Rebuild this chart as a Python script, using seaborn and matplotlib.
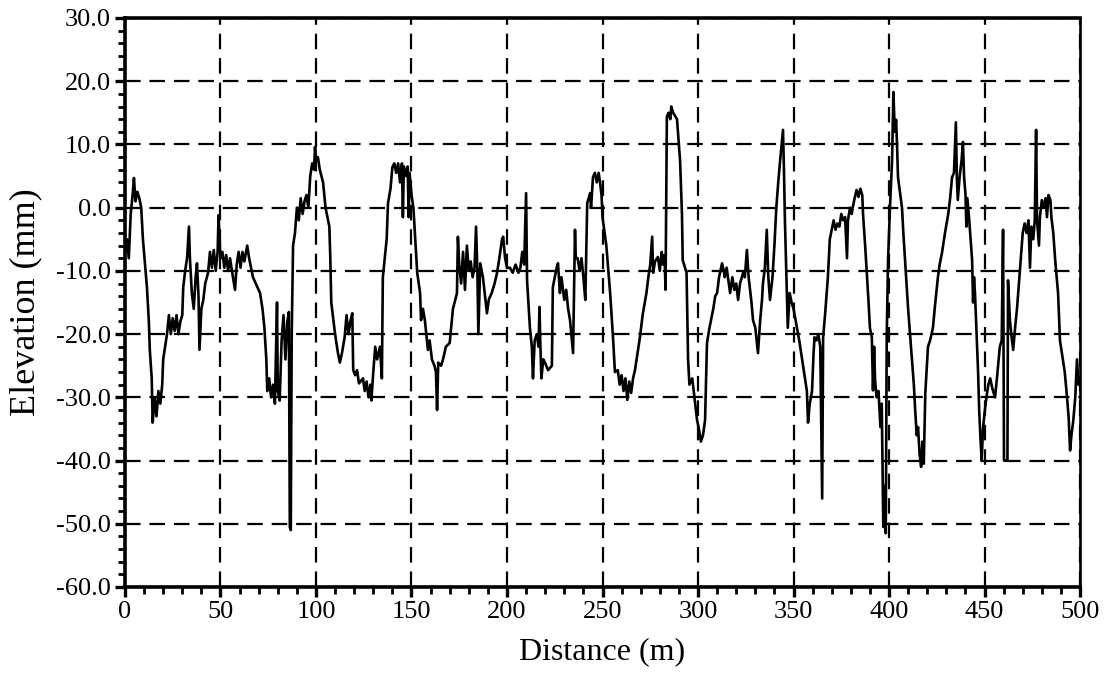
import numpy as np
import pandas as pd
import matplotlib
matplotlib.use("Agg")
import matplotlib.pyplot as plt
import seaborn as sns
from matplotlib.ticker import MultipleLocator, FuncFormatter

distance = [
    0, 1, 2, 3, 4, 4.7, 5.5, 6.5, 7.5, 8.5, 9.4, 10.5, 11.5, 12.5, 13, 14, 14.5, 15.5, 16.5, 17.5,
    18.5, 19.5, 20, 21, 22, 23, 24, 25, 26, 27, 28, 29, 30, 30.5, 31.5, 32.5, 33.5, 34, 35, 36,
    37, 37.7, 38.5, 39, 40, 41, 42, 43.5, 44.5, 45.5, 46.5, 47.5, 48.5, 49, 50, 51, 52, 53, 54, 55,
    56, 57.6, 58.5, 59.5, 60.5, 61.5, 62.5, 64, 65, 66, 67, 68.5, 70.7, 72, 73, 74, 74.5, 75.5, 76.5, 77.5,
    78.5, 79.6, 80, 81, 82, 83, 84, 85, 85.8, 86.3, 86.8, 87.3, 88, 89, 90, 91, 92, 93, 94, 95,
    96, 97, 98, 99, 99.5, 100, 101, 102, 103.7, 105, 107, 107.5, 108, 110, 111.5, 112.5, 113.6, 115, 116, 117,
    118, 119, 119.5, 120.5, 121.5, 122.5, 124.6, 125.5, 126.5, 127.5, 128.5, 129, 130, 131, 132, 133.5, 134.5, 135, 136, 137,
    137.7, 139, 140, 141, 142, 143, 144, 145, 145.5, 146, 147, 148, 148.5, 149, 150, 151, 153, 154.5, 155, 156,
    157, 158.6, 159.5, 160.7, 162, 162.8, 163.4, 164, 165.5, 166.5, 168, 170, 171.7, 173, 173.8, 174.3, 175, 176, 177, 178,
    179, 180, 181, 182, 183, 183.8, 184.5, 185, 186, 187.4, 188.5, 189.5, 190.5, 192, 193.5, 194.8, 196, 197.4, 198, 199,
    200, 201.5, 203, 204.5, 206, 207, 208, 209, 210, 210.5, 212, 213, 213.6, 214.5, 215.6, 216.5, 217, 217.5, 218, 219,
    220, 221.5, 223.5, 224, 225, 226, 226.7, 227.7, 228.5, 230, 231, 232, 233, 234.6, 235.6, 236, 237, 238, 239, 240,
    241, 242, 243.5, 244, 245, 246, 247, 248, 248.7, 249.5, 250, 252, 254, 255.5, 256.5, 258, 259, 260, 261, 262,
    263, 264, 265, 266, 267, 269.6, 271, 273, 274, 275, 276, 276.5, 277.5, 279, 280, 281, 281.7, 282.5, 283, 283.7,
    284.5, 285.5, 286, 287, 288, 289, 290.6, 291.6, 292, 294, 294.8, 295.5, 297, 298.5, 299.5, 300.5, 301.5, 302.6, 303.7, 304.7,
    306, 307, 308, 309, 310, 311, 312.6, 313.5, 314, 315, 316.8, 318, 319, 320, 321, 322, 323.6, 324.5, 325.6, 326.5,
    328, 328.8, 330, 331.4, 332.5, 333.5, 334, 335, 336, 336.8, 337.7, 339, 340, 341, 342, 343, 344.5, 345, 345.5, 346.5,
    347, 348, 349, 350, 351.8, 353, 354.5, 356, 357, 357.6, 358.5, 359.7, 360.5, 361, 362, 363, 364, 365, 365.5, 366.5,
    368, 369, 370, 371, 372, 373, 374, 375, 376, 377, 378, 378.5, 379.6, 380.5, 381, 382, 383, 384, 385, 386,
    386.4, 387.5, 388.5, 389.3, 390, 391, 391.6, 392.2, 392.7, 393.5, 394.5, 395.5, 396.2, 397, 397.8, 398.3, 398.8, 399.5, 400.5, 401.6,
    402.3, 403, 403.7, 404.2, 404.7, 405.5, 406.8, 407.5, 408.4, 409.2, 410, 411, 412, 413, 413.6, 414.5, 415.2, 416, 416.8, 417.5,
    418.2, 419, 420.4, 421.5, 423, 424, 425.6, 426.5, 427.7, 429.3, 431, 432, 433, 434, 435, 435.5, 436, 437, 438, 438.7,
    439.3, 440, 440.5, 441, 442, 443.5, 444, 444.5, 445, 446, 446.6, 447.2, 447.8, 448.5, 449.2, 450, 451, 452, 453, 454,
    455.5, 456.5, 458, 459, 459.7, 460.2, 462, 462.3, 463.3, 464, 465, 466, 467, 468.6, 470, 471, 472, 473, 473.8, 474.5,
    475.5, 476.3, 477, 477.5, 478.5, 479, 480, 481, 482, 482.7, 483.5, 484.5, 485, 486, 487, 488.5, 489.5, 491, 492, 493,
    494, 494.8, 495.5, 496.5, 497.5, 498.4, 499.2, 500,
]
elevation = [
    -7, -5, -8, -1, 2, 4.7, 1, 2.5, 1.5, 0, -5, -9, -12.6, -18, -22.5, -27, -34, -30, -33, -29,
    -31, -28, -24, -22, -20, -17, -20, -17.5, -19.5, -17, -20, -18, -17, -12.6, -10, -8, -3, -8, -13.5, -16,
    -11, -8.8, -14, -22.5, -16, -14.6, -12, -10.3, -7, -9.5, -6.7, -10, -7, -1.2, -8, -7, -9.5, -7.5, -10, -8,
    -10, -13, -9, -7, -9.5, -7, -8.5, -6, -8, -9.5, -11, -12, -13.5, -16, -19, -24, -29, -27, -30, -28,
    -31, -15, -29, -30.5, -21, -17, -24, -18, -16.5, -50.5, -51, -20, -6, -4, 0, -2, 1.5, -1, 1, 2,
    0, 5, 7, 6, 9.6, 7.5, 8, 6, 4, 0, -3, -8, -15, -20, -23, -24.5, -23, -20.5, -17, -20,
    -18, -16.7, -25.7, -26.5, -25.7, -27.8, -27, -29, -27.5, -30, -28, -30.5, -26, -22, -24, -22, -27, -11, -8, -5,
    0.7, 3, 6.4, 7, 5.5, 7, 4, 7, -1.5, 6.5, 5, 6.5, -1.5, 5.5, 2, 0, -10.3, -13.5, -17.8, -16,
    -17.8, -22.5, -21, -24, -25, -26, -32, -24.5, -25, -24, -22, -21.4, -16, -14.5, -13.5, -4.6, -9, -12, -7, -13,
    -6, -10, -8.5, -11, -9.5, -3, -10, -20, -8.8, -11, -14, -16.7, -14.5, -13.5, -12, -10.3, -8, -5, -4.6, -8,
    -9.5, -9.5, -10.3, -9, -10.3, -9.5, -7, -9, 2.3, -11.5, -19, -22, -27, -21, -20, -22, -15.7, -22, -27, -24,
    -24.6, -25.7, -25, -12.6, -11, -9.5, -8.8, -13.5, -11, -14.6, -13, -16, -17.8, -23, -3.5, -8, -8, -10, -8, -11,
    -14.6, 0.7, 2.3, 0, 4.8, 5.5, 4, 5.5, 4, 2, -1.5, -6, -13.5, -20.5, -26, -25.7, -28, -26.5, -29, -27,
    -30.4, -27.5, -29.3, -27, -25.7, -20.5, -17, -13.5, -11, -9, -4.6, -10.3, -8.5, -7.8, -10, -7, -9, -7.5, -13, 14.4,
    15, 14, 16, 15, 14.5, 14, 7.5, -1, -8.3, -10.3, -24, -28, -27, -31, -33.6, -35, -37, -36, -33.6, -21.4,
    -19, -17.5, -16, -14, -13.5, -11, -8.8, -10, -11, -9.5, -13.5, -11, -13, -12, -14.6, -12, -10.3, -11, -6.7, -11,
    -15, -17.8, -19, -23, -18, -14.6, -12, -9.5, -3.5, -11, -14.6, -11, -6, 0, 4, 7.5, 12.3, 6, -2, -13.5,
    -19, -13.5, -15, -16, -19, -21, -24, -27, -29, -34, -31, -29, -23, -20.5, -21, -20, -22, -46, -20.5, -17,
    -11, -5, -3.5, -2, -3.5, -2.5, -3, -1, -2, -1.5, -8, -2, 0, -1, 0, 1.5, 2.8, 1.7, 3, 2,
    -1, -6, -11, -15, -19, -20.5, -28.9, -22, -27.3, -30, -29, -34.7, -31, -50.5, -44, -51.5, -20.5, -8.3, 0, 7.5,
    18.3, 12, 13.9, 10, 4.8, 3, 0, -4, -8.3, -12, -16, -20, -24, -28, -31.5, -36, -34.7, -39, -41, -37,
    -40.5, -29.3, -22, -21, -19, -15.7, -11, -9, -7.2, -4, -1, 1.5, 4.8, 5.5, 13.5, 5, 1.2, 5, 7.5, 10.4,
    4.8, 2.3, -3, 1.5, -2, -8.3, -15, -11, -13.5, -21.4, -25.7, -32, -36, -40, -35, -32.5, -30, -28, -27, -28.5,
    -30, -27, -22, -21, -3.5, -40, -40, -11.5, -17.8, -20, -22.5, -19, -16, -9.5, -4, -2.5, -4, -2, -9.5, -3,
    -5, -2, 12.3, -2, -6, -1.5, 1.2, 0, 1.5, -1.5, 2, 1.2, -1.5, -4, -8.3, -13.5, -21, -24, -26, -29.3,
    -33, -38.4, -36, -33.6, -30, -24, -28, -27.3,
]

x_ticks = [0, 50, 100, 150, 200, 250, 300, 350, 400, 450, 500]
y_ticks = [-60, -50, -40, -30, -20, -10, 0, 10, 20, 30]

df = pd.DataFrame({"Distance (m)": distance, "Elevation (mm)": elevation})

sns.set_theme(style="white")
plt.rcParams["font.family"] = ["Liberation Serif", "DejaVu Serif"]
plt.rcParams["axes.unicode_minus"] = False

fig = plt.figure(figsize=(11.05, 6.79), dpi=100)
ax = fig.add_axes([0.1131, 0.1355, 0.8643, 0.838])

sns.lineplot(data=df, x="Distance (m)", y="Elevation (mm)", ax=ax,
             color="black", linewidth=1.9, estimator=None, sort=False, zorder=3)

ax.set_xlim(0, 500)
ax.set_ylim(-60, 30)
ax.set_xticks(x_ticks)
ax.set_yticks(y_ticks)
ax.xaxis.set_minor_locator(MultipleLocator(10))
ax.yaxis.set_minor_locator(MultipleLocator(2))
ax.yaxis.set_major_formatter(FuncFormatter(lambda v, p: f"{v:.1f}"))
ax.xaxis.set_major_formatter(FuncFormatter(lambda v, p: f"{int(v)}"))

ax.grid(True, which="major", color="black", linestyle=(0, (7, 4)), linewidth=1.6, zorder=1)
ax.tick_params(axis="both", which="major", direction="out", length=7, width=2.4,
               color="black", labelsize=19, labelcolor="black", pad=3,
               bottom=True, left=True)
ax.tick_params(axis="both", which="minor", direction="out", length=5, width=2.0,
               color="black", bottom=True, left=True)

for name, sp in ax.spines.items():
    sp.set_visible(True)
    sp.set_color("black")
    sp.set_linewidth(2.6)
ax.spines["right"].set_linewidth(1.9)

ax.set_xlabel("Distance (m)", fontsize=23, color="black", labelpad=10)
ax.set_ylabel("Elevation (mm)", fontsize=26, color="black", labelpad=10)

fig.savefig("out.png", dpi=100, facecolor="white")
